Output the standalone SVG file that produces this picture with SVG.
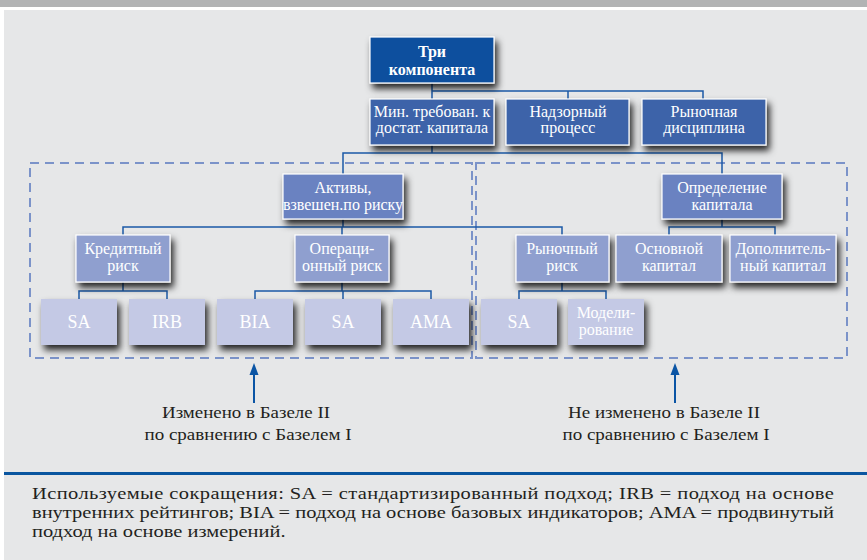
<svg xmlns="http://www.w3.org/2000/svg" width="867" height="560" viewBox="0 0 867 560">
<defs>
<filter id="sh" x="-20%" y="-20%" width="150%" height="170%">
<feDropShadow dx="3" dy="5" stdDeviation="3.5" flood-color="#000" flood-opacity="0.85"/>
</filter>
</defs>
<style>
.t{font-family:"Liberation Serif","DejaVu Serif",serif;fill:#fff;text-anchor:middle}
.n{font-size:16px}
.b{font-size:16px;font-weight:bold}
.lf{font-size:18px}
.c1{fill:#0d4f9e;stroke:#fff;stroke-width:1.2}
.c2{fill:#3e64a9;stroke:#fff;stroke-width:1.2}
.c3{fill:#6a82c1;stroke:#fff;stroke-width:1.2}
.c4{fill:#8f9fcf;stroke:#fff;stroke-width:1.2}
.c5{fill:#c4c9e5}
.con{fill:none;stroke:#1b5aa6;stroke-width:1.5}
.dash{fill:none;stroke:#7b93c9;stroke-width:2;stroke-dasharray:9 6}
.lab{font-family:"Liberation Serif","DejaVu Serif",serif;font-size:16px;fill:#231f20;text-anchor:middle}
.fn{font-family:"Liberation Serif","DejaVu Serif",serif;font-size:16px;fill:#231f20}
.arr{fill:#0b55a5}
</style>
<rect x="0" y="0" width="867" height="560" fill="#fff"/>
<rect x="0" y="0" width="867" height="7" fill="#b2b3b4"/>
<rect x="4" y="10" width="863" height="550" fill="#e6e7e8"/>

<g id="dashed-areas">
<rect class="dash" x="30" y="163" width="442" height="195"/>
<rect class="dash" x="476" y="163" width="371" height="195"/>
</g>

<g id="connectors">
<path class="con" d="M432,83 V91 H703 V99 M568,91 V99 M432,91 V99"/>
<path class="con" d="M432,145 V153 M343,174 V153 H722 V174"/>
<path class="con" d="M343,219 V227 M123,235 V227 H562 V235 M342,227 V235"/>
<path class="con" d="M722,219 V227 M669,235 V227 H775 V235"/>
<path class="con" d="M123,282 V291 M79,299 V291 H167 V299"/>
<path class="con" d="M342,282 V291 M255,299 V291 H431 V299 M343,291 V299"/>
<path class="con" d="M562,282 V291 M519,299 V291 H606 V299"/>
<path fill="none" stroke="#0b55a5" stroke-width="2" d="M254,403 V372"/>
<polygon class="arr" points="254,363 258.5,375 249.5,375"/>
<path fill="none" stroke="#0b55a5" stroke-width="2" d="M675,403 V372"/>
<polygon class="arr" points="675,363 679.5,375 670.5,375"/>
</g>

<g id="n-top"><rect class="c1" x="370" y="37" width="124" height="46" filter="url(#sh)"/><text class="t b" x="432" y="57">Три</text><text class="t b" x="432" y="75">компонента</text></g>

<g id="n-min"><rect class="c2" x="370" y="99" width="124" height="46" filter="url(#sh)"/><text class="t n" x="432" y="117">Мин. требован. к</text><text class="t n" x="432" y="133">достат. капитала</text></g>
<g id="n-nadz"><rect class="c2" x="506" y="99" width="123" height="46" filter="url(#sh)"/><text class="t n" x="568" y="117">Надзорный</text><text class="t n" x="568" y="133">процесс</text></g>
<g id="n-ryn"><rect class="c2" x="642" y="99" width="124" height="46" filter="url(#sh)"/><text class="t n" x="704" y="117">Рыночная</text><text class="t n" x="704" y="133">дисциплина</text></g>

<g id="n-aktivy"><rect class="c3" x="283" y="174" width="120" height="45" filter="url(#sh)"/><text class="t n" x="343" y="193">Активы,</text><text class="t n" x="343" y="210">взвешен.по риску</text></g>
<g id="n-opred"><rect class="c3" x="662" y="174" width="120" height="45" filter="url(#sh)"/><text class="t n" x="722" y="193">Определение</text><text class="t n" x="722" y="210">капитала</text></g>

<g id="n-kred"><rect class="c4" x="76" y="235" width="94" height="47" filter="url(#sh)"/><text class="t n" x="123" y="254">Кредитный</text><text class="t n" x="123" y="271">риск</text></g>
<g id="n-oper"><rect class="c4" x="295" y="235" width="94" height="47" filter="url(#sh)"/><text class="t n" x="342" y="254">Операци-</text><text class="t n" x="342" y="271">онный риск</text></g>
<g id="n-rynrisk"><rect class="c4" x="516" y="235" width="93" height="47" filter="url(#sh)"/><text class="t n" x="562" y="254">Рыночный</text><text class="t n" x="562" y="271">риск</text></g>
<g id="n-osn"><rect class="c4" x="616" y="235" width="106" height="47" filter="url(#sh)"/><text class="t n" x="669" y="254">Основной</text><text class="t n" x="669" y="271">капитал</text></g>
<g id="n-dop"><rect class="c4" x="730" y="235" width="106" height="47" filter="url(#sh)"/><text class="t n" x="783" y="254">Дополнитель-</text><text class="t n" x="783" y="271">ный капитал</text></g>

<g id="n-sa1"><rect class="c5" x="41" y="299" width="76" height="46" filter="url(#sh)"/><text class="t lf" x="79" y="328">SA</text></g>
<g id="n-irb"><rect class="c5" x="129" y="299" width="76" height="46" filter="url(#sh)"/><text class="t lf" x="167" y="328">IRB</text></g>
<g id="n-bia"><rect class="c5" x="217" y="299" width="76" height="46" filter="url(#sh)"/><text class="t lf" x="255" y="328">BIA</text></g>
<g id="n-sa2"><rect class="c5" x="305" y="299" width="76" height="46" filter="url(#sh)"/><text class="t lf" x="343" y="328">SA</text></g>
<g id="n-ama"><rect class="c5" x="393" y="299" width="76" height="46" filter="url(#sh)"/><text class="t lf" x="431" y="328">AMA</text></g>
<g id="n-sa3"><rect class="c5" x="481" y="299" width="76" height="46" filter="url(#sh)"/><text class="t lf" x="519" y="328">SA</text></g>
<g id="n-model"><rect class="c5" x="568" y="299" width="76" height="46" filter="url(#sh)"/><text class="t n" x="606" y="318">Модели-</text><text class="t n" x="606" y="335">рование</text></g>

<g id="labels">
<text class="lab" x="246" y="418" textLength="168" lengthAdjust="spacingAndGlyphs">Изменено в Базеле II</text>
<text class="lab" x="248" y="440" textLength="207" lengthAdjust="spacingAndGlyphs">по сравнению с Базелем I</text>
<text class="lab" x="664" y="418" textLength="192" lengthAdjust="spacingAndGlyphs">Не изменено в Базеле II</text>
<text class="lab" x="666" y="440" textLength="207" lengthAdjust="spacingAndGlyphs">по сравнению с Базелем I</text>
</g>

<rect x="4" y="472" width="863" height="3" fill="#0a56a0"/>
<g id="footnote" transform="translate(32,0) scale(1.28,1)">
<text class="fn" x="0" y="499" textLength="626.5" lengthAdjust="spacing">Используемые сокращения: SA = стандартизированный подход; IRB = подход на основе</text>
<text class="fn" x="0" y="518" textLength="626.5" lengthAdjust="spacing">внутренних рейтингов; BIA = подход на основе базовых индикаторов; AMA = продвинутый</text>
<text class="fn" x="0" y="537">подход на основе измерений.</text>
</g>
</svg>
